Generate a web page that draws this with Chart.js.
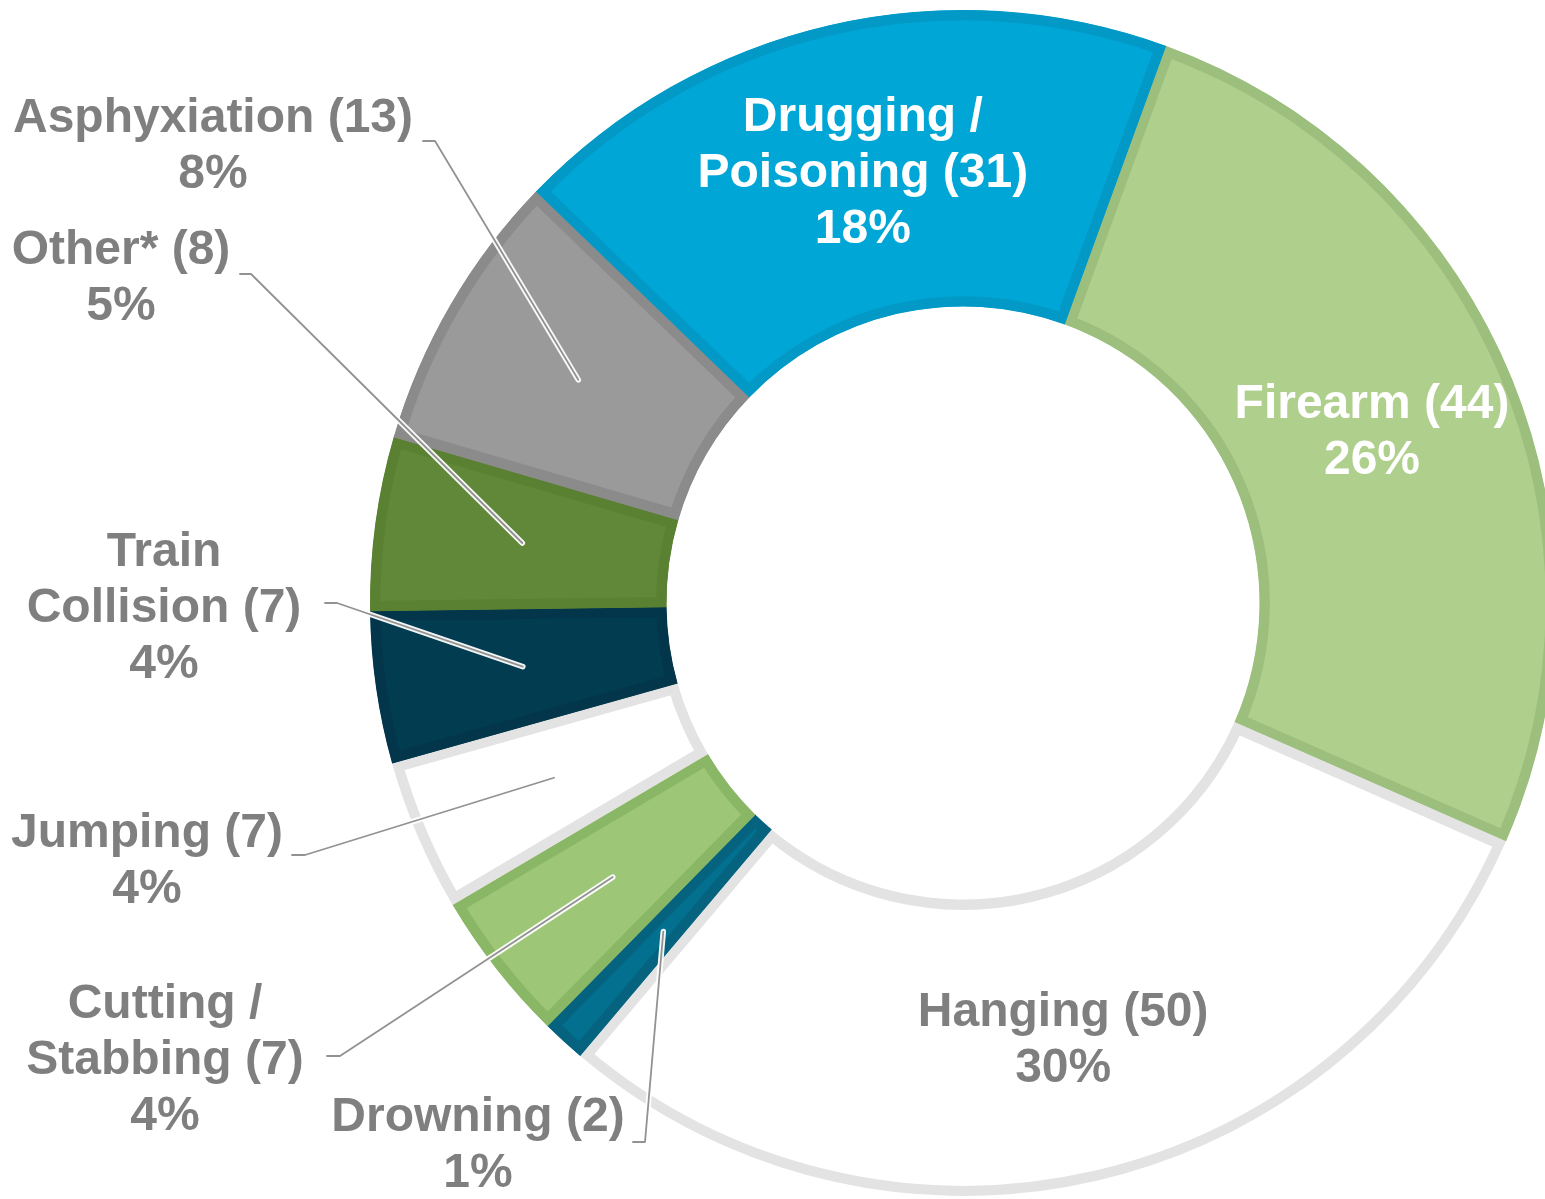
<!DOCTYPE html>
<html>
<head>
<meta charset="utf-8">
<script src="https://cdn.jsdelivr.net/npm/chart.js@4/dist/chart.umd.min.js"></script>
<style>
  html, body { margin: 0; padding: 0; background: #ffffff; overflow: hidden; }
  #wrap { position: relative; width: 1560px; height: 1199px; }
  canvas { display: block; }
</style>
</head>
<body>
<div id="wrap"><canvas id="c" width="1560" height="1199"></canvas></div>
<script>
// ---- data ----
const categories = [
  ['Firearm'],
  ['Hanging'],
  ['Drowning'],
  ['Cutting /', 'Stabbing'],
  ['Jumping'],
  ['Train', 'Collision'],
  ['Other*'],
  ['Asphyxiation'],
  ['Drugging /', 'Poisoning']
];
const counts = [44, 50, 2, 7, 7, 7, 8, 13, 31];

// ---- styles ----
const fillColors   = ['#AFCF8D', '#FFFFFF', '#03708F', '#9DC677', '#FFFFFF', '#023C51', '#618838', '#9A9A9A', '#00A6D6'];
const borderColors = ['#9DBF7E', '#E3E3E3', '#05637F', '#8AB765', '#E3E3E3', '#03364A', '#5A8132', '#8B8B8B', '#0399C7'];
const labelColors  = ['#FFFFFF', '#7F7F7F', '#7F7F7F', '#7F7F7F', '#7F7F7F', '#7F7F7F', '#7F7F7F', '#7F7F7F', '#FFFFFF'];

// label layout: null = centred on the slice; otherwise text block centre + leader start/elbow (px)
const labelLayout = [
  null,
  null,
  { cx: 478, cy: 1142, lx: 633, ly: 1142, ex: 645, ey: 1142 },
  { cx: 165, cy: 1057, lx: 327, ly: 1056, ex: 340, ey: 1056 },
  { cx: 147, cy: 858,  lx: 292, ly: 855,  ex: 305, ey: 855 },
  { cx: 164, cy: 605,  lx: 325, ly: 603,  ex: 337, ey: 603 },
  { cx: 121, cy: 275,  lx: 240, ly: 274,  ex: 251, ey: 274 },
  { cx: 213, cy: 143,  lx: 423, ly: 141,  ex: 435, ey: 141 },
  null
];

const FONT_SIZE = 48;
const LINE_H = 56;
const FONT = 'bold ' + FONT_SIZE + 'px "Liberation Sans", Arial, sans-serif';

const labelPlugin = {
  id: 'sliceLabels',
  afterDatasetsDraw(chart) {
    const ctx = chart.ctx;
    const meta = chart.getDatasetMeta(0);
    const values = chart.data.datasets[0].data;
    const total = values.reduce((a, b) => a + b, 0);
    ctx.save();
    // leader lines first
    meta.data.forEach((arc, i) => {
      const lay = labelLayout[i];
      if (!lay) return;
      const p = arc.getCenterPoint();
      ctx.lineCap = 'round';
      ctx.lineJoin = 'round';
      ctx.beginPath();
      ctx.moveTo(lay.ex, lay.ey);
      ctx.lineTo(p.x, p.y);
      ctx.strokeStyle = 'rgba(255,255,255,0.95)';
      ctx.lineWidth = 5.5;
      ctx.stroke();
      ctx.beginPath();
      ctx.moveTo(lay.lx, lay.ly);
      ctx.lineTo(lay.ex, lay.ey);
      ctx.lineTo(p.x, p.y);
      ctx.strokeStyle = '#929292';
      ctx.lineWidth = 1.8;
      ctx.stroke();
    });
    // text
    ctx.font = FONT;
    ctx.textAlign = 'center';
    ctx.textBaseline = 'alphabetic';
    meta.data.forEach((arc, i) => {
      const name = categories[i];
      const lines = name.slice(0, -1).concat([name[name.length - 1] + ' (' + values[i] + ')']);
      lines.push(Math.round(values[i] / total * 100) + '%');
      let cx, cy;
      const lay = labelLayout[i];
      if (lay) { cx = lay.cx; cy = lay.cy; }
      else { const p = arc.getCenterPoint(); cx = p.x; cy = p.y + 1; }
      const n = lines.length;
      ctx.fillStyle = labelColors[i];
      lines.forEach((t, k) => {
        const lineCenter = cy + (k - (n - 1) / 2) * LINE_H;
        ctx.fillText(t, cx, lineCenter + FONT_SIZE * 0.35);
      });
    });
    ctx.restore();
  }
};

new Chart(document.getElementById('c'), {
  type: 'doughnut',
  data: {
    labels: categories.map(c => c.join(' ')),
    datasets: [{
      data: counts,
      backgroundColor: fillColors,
      borderColor: borderColors,
      borderWidth: 10,
      borderAlign: 'inner',
      hoverOffset: 0,
      offset: 0
    }]
  },
  options: {
    responsive: false,
    animation: false,
    events: [],
    devicePixelRatio: 1,
    rotation: 20,
    cutout: '50%',
    layout: { padding: { left: 370, right: 4, top: 10, bottom: 3 } },
    plugins: {
      legend: { display: false },
      tooltip: { enabled: false }
    }
  },
  plugins: [labelPlugin]
});
</script>
</body>
</html>
